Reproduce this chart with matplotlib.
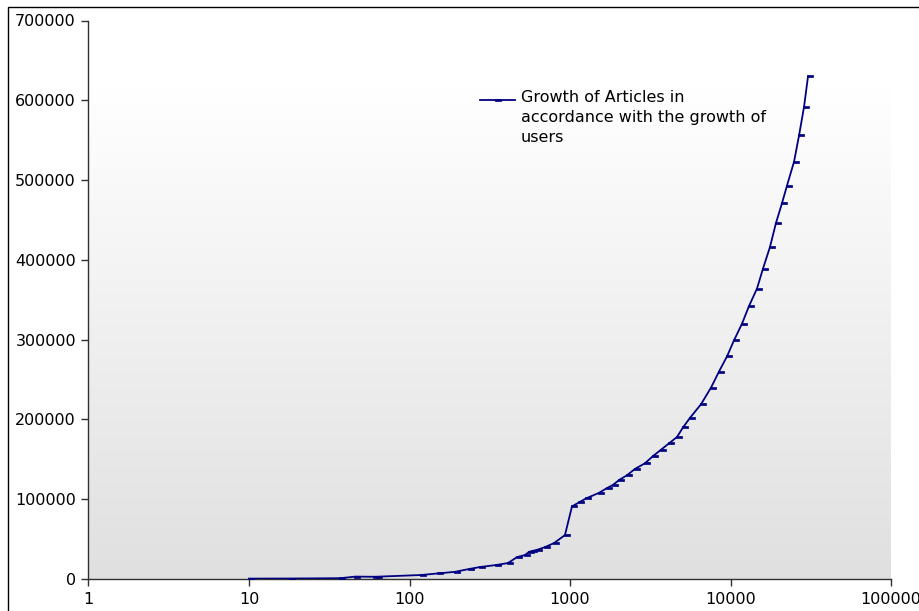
import numpy as np
import matplotlib
matplotlib.use("Agg")
import matplotlib.pyplot as plt
from matplotlib.ticker import FixedLocator, FixedFormatter, NullLocator
from matplotlib.patches import Rectangle
from matplotlib.path import Path

users = [10, 18, 37, 46, 60, 63, 118, 151, 192, 235, 275, 346, 411, 468, 525, 555,
         580, 623, 699, 795, 930, 1029, 1138, 1259, 1517, 1702, 1855, 2020, 2265,
         2541, 2931, 3288, 3689, 4139, 4643, 5060, 5595, 6550, 7568, 8480, 9510,
         10511, 11794, 13036, 14627, 15937, 17610, 19190, 20930, 22490, 24880,
         26740, 28730, 30410]
articles = [500, 600, 1000, 3000, 2800, 2900, 5000, 7000, 9000, 12500, 15000, 17500,
            20000, 27500, 30000, 34000, 35000, 36500, 40000, 45000, 55000, 91000,
            96000, 101000, 108000, 114000, 118000, 124000, 130000, 138000, 145000,
            154000, 162000, 170000, 178000, 190000, 202000, 219000, 240000, 260000,
            279000, 299000, 320000, 342000, 364000, 389000, 416000, 446000, 471000,
            493000, 523000, 556000, 592000, 630000]
x_ticks = [1, 10, 100, 1000, 10000, 100000]
x_labels = ["1", "10", "100", "1000", "10000", "100000"]
y_ticks = [0, 100000, 200000, 300000, 400000, 500000, 600000, 700000]
y_labels = [str(v) for v in y_ticks]
legend_label = "Growth of Articles in\naccordance with the growth of\nusers"

plt.rcParams['font.family'] = ['DejaVu Sans']
fig = plt.figure(figsize=(9.2, 6.11), dpi=100)
fig.patch.set_facecolor('white')
# outer frame
fig.patches.append(Rectangle((8/920, -0.1), 1.2, 1 - 7/611 + 0.1, transform=fig.transFigure,
                             fill=False, edgecolor='black', linewidth=1.0))

ax = fig.add_axes([88.5/920, 1 - 579/611, (891 - 88.5)/920, (579 - 20.5)/611])
ax.set_xscale('log')
ax.set_xlim(1, 100000)
ax.set_ylim(0, 700000)

# vertical gradient background (white top -> light gray bottom)
t = np.linspace(0, 1, 256)
shade = np.where(t < 0.12, 1.0, 1.0 - (t - 0.12) / 0.88 * (1 - 224/255))
img = np.repeat(shade[:, None], 2, axis=1)
img = np.dstack([img, img, img])
ax.imshow(img, extent=[0, 1, 0, 1], transform=ax.transAxes, aspect='auto',
          zorder=0, origin='upper', interpolation='bilinear')
ax.set_facecolor('white')

dash = Path([(-0.15, -0.2), (1.0, -0.2), (1.0, 0.2), (-0.15, 0.2), (-0.15, -0.2)],
            [Path.MOVETO, Path.LINETO, Path.LINETO, Path.LINETO, Path.CLOSEPOLY])

ax.plot(users, articles, color='#000080', linewidth=1.3, zorder=3)
ax.plot(users, articles, linestyle='none', marker=dash, markersize=7,
        markerfacecolor='#000080', markeredgecolor='#000080', markeredgewidth=0.5, zorder=3)

for s in ['top', 'right']:
    ax.spines[s].set_visible(False)
for s in ['left', 'bottom']:
    ax.spines[s].set_color('#303030')
    ax.spines[s].set_linewidth(1.0)

ax.xaxis.set_major_locator(FixedLocator(x_ticks))
ax.xaxis.set_major_formatter(FixedFormatter(x_labels))
ax.xaxis.set_minor_locator(NullLocator())
ax.yaxis.set_major_locator(FixedLocator(y_ticks))
ax.yaxis.set_major_formatter(FixedFormatter(y_labels))
ax.tick_params(axis='both', direction='out', length=5, width=1, color='#303030',
               labelsize=11.5, labelcolor='black')
ax.tick_params(axis='y', pad=4)
ax.tick_params(axis='x', pad=4)

# legend drawn manually
lx0, lx1, ly = (480-88.5)/802.5, (515-88.5)/802.5, (579-100)/558.5
ax.plot([lx0, lx1], [ly, ly], transform=ax.transAxes,
        color='#000080', linewidth=1.3, zorder=4, clip_on=False)
ax.plot([(496-88.5)/802.5], [ly], transform=ax.transAxes, linestyle='none',
        marker=dash, markersize=7, markerfacecolor='#000080', markeredgecolor='#000080',
        markeredgewidth=0.5, zorder=4, clip_on=False)
ax.text((521-88.5)/802.5, (579-90)/558.5, legend_label, transform=ax.transAxes,
        fontsize=11.5, va='top', ha='left', linespacing=1.4, zorder=4)

fig.savefig('out.png', dpi=100)
